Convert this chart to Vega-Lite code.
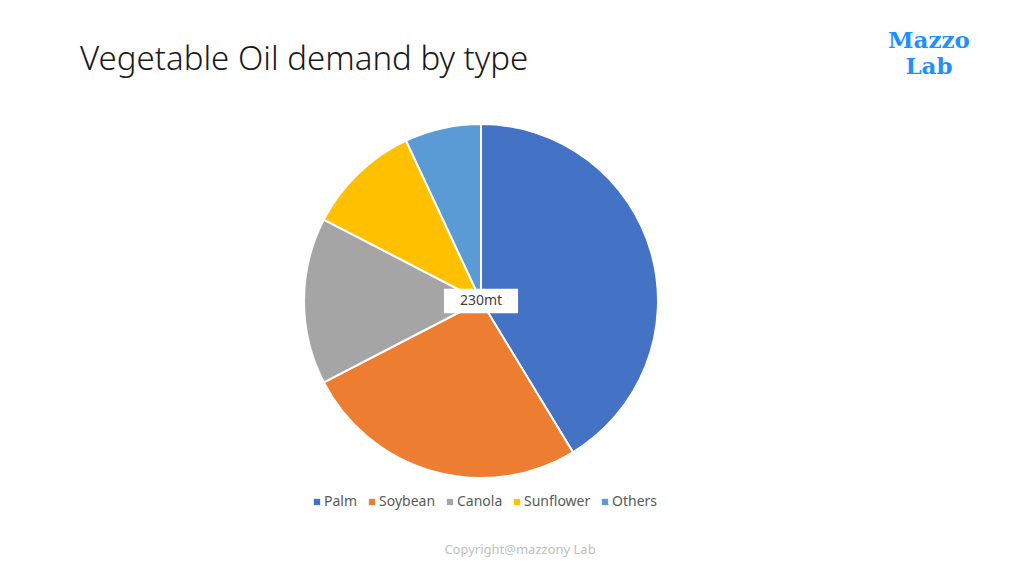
{
  "$schema": "https://vega.github.io/schema/vega-lite/v6.json",
  "autosize": {"type": "none"},
  "width": 802,
  "height": 470,
  "padding": {"left": 80, "top": 66, "right": 142, "bottom": 44},
  "background": "white",
  "title": {
    "text": "Vegetable Oil demand by type",
    "anchor": "start",
    "frame": "group",
    "fontSize": 33,
    "fontWeight": 300,
    "font": "Noto Sans",
    "color": "#1a1a1a",
    "offset": -47
  },
  "config": {"view": {"stroke": null}},
  "data": {
    "values": [
      {"type": "Palm", "demand": 95, "rank": 1},
      {"type": "Soybean", "demand": 60, "rank": 2},
      {"type": "Canola", "demand": 35, "rank": 3},
      {"type": "Sunflower", "demand": 24, "rank": 4},
      {"type": "Others", "demand": 16, "rank": 5}
    ]
  },
  "layer": [
    {
      "mark": {"type": "arc", "outerRadius": 177, "stroke": "white", "strokeWidth": 2},
      "encoding": {
        "theta": {"field": "demand", "type": "quantitative", "stack": true},
        "order": {"field": "rank", "type": "quantitative"},
        "color": {
          "field": "type",
          "type": "nominal",
          "sort": ["Palm", "Soybean", "Canola", "Sunflower", "Others"],
          "scale": {
            "domain": ["Palm", "Soybean", "Canola", "Sunflower", "Others"],
            "range": ["#4472C4", "#ED7D31", "#A5A5A5", "#FFC000", "#5B9BD5"]
          },
          "legend": {
            "orient": "none",
            "legendX": 230,
            "legendY": 429,
            "direction": "horizontal",
            "title": null,
            "symbolType": "square",
            "symbolSize": 40,
            "symbolStrokeWidth": 0,
            "labelFontSize": 14,
            "labelFont": "Noto Sans",
            "labelColor": "#595959",
            "labelOffset": 0,
            "columnPadding": 7
          }
        }
      }
    },
    {
      "transform": [
        {"aggregate": [{"op": "sum", "field": "demand", "as": "total"}]},
        {"calculate": "datum.total + 'mt'", "as": "label"}
      ],
      "layer": [
        {
          "mark": {
            "type": "point",
            "shape": "M-1.5,-0.5H1.5V0.5H-1.5Z",
            "size": 2440,
            "filled": true,
            "color": "white",
            "opacity": 1,
            "strokeWidth": 0
          },
          "encoding": {}
        },
        {
          "mark": {"type": "text", "fontSize": 14, "font": "Noto Sans", "color": "#404040", "align": "center", "baseline": "middle"},
          "encoding": {"text": {"field": "label", "type": "nominal"}}
        }
      ]
    },
    {
      "data": {"values": [{"note": "Copyright@mazzony Lab"}]},
      "mark": {
        "type": "text",
        "x": {"expr": "width / 2 + 39"},
        "y": {"expr": "height + 14"},
        "fontSize": 13,
        "font": "Noto Sans",
        "color": "#BFBFBF",
        "align": "center",
        "baseline": "middle"
      },
      "encoding": {"text": {"field": "note", "type": "nominal"}}
    },
    {
      "data": {"values": [{"logo": ["Mazzo", "Lab"]}]},
      "mark": {
        "type": "text",
        "x": {"expr": "width + 47"},
        "y": {"expr": "-36"},
        "fontSize": 23,
        "font": "DejaVu Serif",
        "fontWeight": "bold",
        "color": "#1E90FF",
        "align": "center",
        "baseline": "top",
        "lineHeight": 26
      },
      "encoding": {"text": {"field": "logo", "type": "nominal"}}
    }
  ]
}
